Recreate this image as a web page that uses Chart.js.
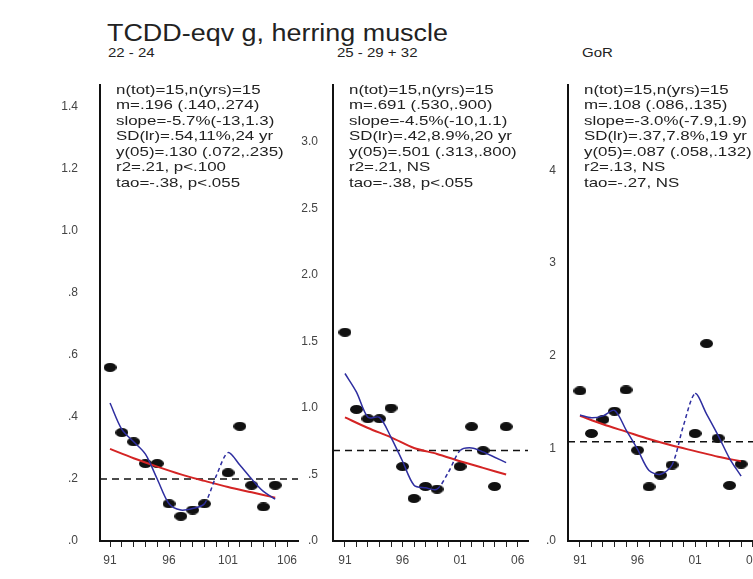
<!DOCTYPE html>
<html>
<head>
<meta charset="utf-8">
<script src="https://cdn.jsdelivr.net/npm/chart.js@4.4.1/dist/chart.umd.min.js"></script>
<style>
  body { margin: 0; width: 753px; height: 579px; overflow: hidden; background: #fff; position: relative;
         font-family: "Liberation Sans", Arial, sans-serif; color: #222; }
  canvas { position: absolute; top: 0; }
  #title { position: absolute; left: 107px; top: 22px; font-size: 23px; line-height: 23px;
           transform: scaleX(1.17); transform-origin: 0 0; white-space: nowrap; }
  .sub { position: absolute; top: 47px; font-size: 12px; line-height: 12px;
         transform: scaleX(1.25); transform-origin: 0 0; white-space: nowrap; }
</style>
</head>
<body>
<div id="title">TCDD-eqv g, herring muscle</div>
<div class="sub" style="left:108px">22 - 24</div>
<div class="sub" style="left:337px">25 - 29 + 32</div>
<div class="sub" style="left:582px">GoR</div>
<canvas id="p1" width="290" height="579" style="left:30px"></canvas>
<canvas id="p2" width="260" height="579" style="left:280px"></canvas>
<canvas id="p3" width="260" height="579" style="left:520px"></canvas>
<script>
// sampling years (19xx / 20xx as 91..105), 100 not sampled
var years = [91, 92, 93, 94, 95, 96, 97, 98, 99, 100, 101, 102, 103, 104, 105];
var trendYears = [91, 93, 95, 97, 99, 101, 103, 105];
var yearTicks = [91, 92, 93, 94, 95, 96, 97, 98, 99, 100, 101, 102, 103, 104, 105, 106];

// 22 - 24
var obsA = [0.56, 0.35, 0.32, 0.25, 0.25, 0.12, 0.08, 0.10, 0.12, null, 0.22, 0.37, 0.18, 0.11, 0.18];
var smoothA = [0.445, 0.36, 0.32, 0.28, 0.20, 0.12, 0.10, 0.105, 0.12, 0.21, 0.285, 0.245, 0.20, 0.16, 0.135];
var trendA = [0.297, 0.267, 0.24, 0.215, 0.194, 0.174, 0.157, 0.14];
var levelA = 0.20;
var yTicksA = [0, 0.2, 0.4, 0.6, 0.8, 1.0, 1.2, 1.4];
var yLabelsA = ['.0', '.2', '.4', '.6', '.8', '1.0', '1.2', '1.4'];
var xLabelsA = { 91: '91', 96: '96', 101: '101', 106: '106' };
var statsA = ['n(tot)=15,n(yrs)=15', 'm=.196 (.140,.274)', 'slope=-5.7%(-13,1.3)', 'SD(lr)=.54,11%,24 yr',
              'y(05)=.130 (.072,.235)', 'r2=.21, p<.100', 'tao=-.38, p<.055'];

// 25 - 29 + 32
var obsB = [1.57, 0.99, 0.92, 0.92, 1.00, 0.56, 0.32, 0.41, 0.39, null, 0.56, 0.86, 0.68, 0.41, 0.86];
var smoothB = [1.26, 1.12, 0.93, 0.93, 0.78, 0.60, 0.42, 0.40, 0.39, 0.52, 0.68, 0.70, 0.67, 0.63, 0.59];
var trendB = [0.93, 0.85, 0.78, 0.70, 0.655, 0.60, 0.55, 0.50];
var levelB = 0.68;
var yTicksB = [0, 0.5, 1.0, 1.5, 2.0, 2.5, 3.0];
var yLabelsB = ['.0', '.5', '1.0', '1.5', '2.0', '2.5', '3.0'];
var xLabelsB = { 91: '91', 96: '96', 101: '01', 106: '06' };
var statsB = ['n(tot)=15,n(yrs)=15', 'm=.691 (.530,.900)', 'slope=-4.5%(-10,1.1)', 'SD(lr)=.42,8.9%,20 yr',
              'y(05)=.501 (.313,.800)', 'r2=.21, NS', 'tao=-.38, p<.055'];

// GoR
var obsC = [1.62, 1.16, 1.31, 1.40, 1.63, 0.98, 0.585, 0.71, 0.82, null, 1.16, 2.13, 1.11, 0.60, 0.83];
var smoothC = [1.36, 1.33, 1.35, 1.41, 1.20, 0.99, 0.76, 0.72, 0.82, 1.25, 1.59, 1.37, 1.14, 0.89, 0.70];
var trendC = [1.35, 1.26, 1.18, 1.10, 1.03, 0.97, 0.91, 0.86];
var levelC = 1.07;
var yTicksC = [0, 1, 2, 3, 4];
var yLabelsC = ['.0', '1', '2', '3', '4'];
var xLabelsC = { 91: '91', 96: '96', 101: '01', 106: '06' };
var statsC = ['n(tot)=15,n(yrs)=15', 'm=.108 (.086,.135)', 'slope=-3.0%(-7.9,1.9)', 'SD(lr)=.37,7.8%,19 yr',
              'y(05)=.087 (.058,.132)', 'r2=.13, NS', 'tao=-.27, NS'];

// filled oval marker
function dot() {
  var c = document.createElement('canvas');
  c.width = 13; c.height = 9;
  var g = c.getContext('2d');
  g.fillStyle = '#111';
  g.beginPath();
  g.ellipse(6.5, 4.5, 6.5, 4.5, 0, 0, Math.PI * 2);
  g.fill();
  return c;
}
var marker = dot();

// stats block printed inside the plot area
var statsText = {
  id: 'statsText',
  afterDraw: function (chart, args, opts) {
    var ctx = chart.ctx, a = chart.chartArea;
    ctx.save();
    ctx.font = '13px "Liberation Sans", Arial, sans-serif';
    ctx.fillStyle = '#222';
    ctx.textBaseline = 'middle';
    opts.lines.forEach(function (t, i) {
      ctx.save();
      ctx.translate(a.left + opts.dx, a.top + 5 + i * 15.5);
      ctx.scale(1.3, 1);
      ctx.fillText(t, 0, 0);
      ctx.restore();
    });
    ctx.restore();
  }
};

function pts(xs, ys) {
  return xs.map(function (x, i) { return { x: x, y: ys[i] }; });
}

function panel(id, p) {
  var tickFont = { family: '"Liberation Sans", Arial, sans-serif', size: 12 };
  new Chart(document.getElementById(id), {
    type: 'line',
    data: {
      datasets: [
        {
          data: pts(years, p.smooth),
          borderColor: '#2e2ea0', borderWidth: 1.5, pointRadius: 0, tension: 0.3,
          segment: {
            borderDash: function (s) { return (s.p0.parsed.x >= 99 && s.p1.parsed.x <= 101) ? [4, 3] : undefined; }
          }
        },
        { data: pts(trendYears, p.trend), borderColor: '#d42424', borderWidth: 2, pointRadius: 0, tension: 0.3 },
        {
          data: [{ x: p.xMin, y: p.level }, { x: p.xMax, y: p.level }],
          borderColor: '#111', borderWidth: 1.5, borderDash: [7, 5], pointRadius: 0
        },
        {
          data: pts(years, p.obs), showLine: false, spanGaps: false,
          pointStyle: marker, pointRadius: 5, pointHoverRadius: 5
        }
      ]
    },
    options: {
      responsive: false,
      animation: false,
      devicePixelRatio: 1,
      layout: { padding: { top: 85, right: p.padRight, bottom: 0, left: 0 } },
      plugins: {
        legend: { display: false },
        tooltip: { enabled: false },
        statsText: { lines: p.stats, dx: 16 }
      },
      scales: {
        x: {
          type: 'linear', min: p.xMin, max: p.xMax,
          afterFit: function (s) { s.height = 38; },
          afterBuildTicks: function (s) { s.ticks = yearTicks.map(function (v) { return { value: v }; }); },
          grid: { display: true, drawOnChartArea: false, drawTicks: true, tickLength: 6, color: '#222', lineWidth: 1 },
          border: { display: true, color: '#111', width: 2 },
          ticks: {
            autoSkip: false, maxRotation: 0, padding: 6, color: '#444', font: tickFont,
            callback: function (v) { return p.xLabels[v] || ''; }
          }
        },
        y: {
          min: 0, max: p.yMax,
          afterFit: function (s) { s.width = p.axisWidth; },
          afterBuildTicks: function (s) { s.ticks = p.yTicks.map(function (v) { return { value: v }; }); },
          grid: { display: false, drawTicks: false },
          border: { display: true, color: '#111', width: 2 },
          ticks: {
            padding: p.labelPad, color: '#444', font: tickFont,
            callback: function (v) { return p.yLabels[p.yTicks.indexOf(v)]; }
          }
        }
      }
    },
    plugins: [statsText]
  });
}

panel('p1', { obs: obsA, smooth: smoothA, trend: trendA, level: levelA, yTicks: yTicksA, yLabels: yLabelsA,
  xLabels: xLabelsA, stats: statsA, xMin: 90.15, xMax: 106.93, yMax: 1.471, axisWidth: 70, padRight: 22, labelPad: 22 });
panel('p2', { obs: obsB, smooth: smoothB, trend: trendB, level: levelB, yTicks: yTicksB, yLabels: yLabelsB,
  xLabels: xLabelsB, stats: statsB, xMin: 89.96, xMax: 106.9, yMax: 3.43, axisWidth: 53, padRight: 12, labelPad: 15 });
panel('p3', { obs: obsC, smooth: smoothC, trend: trendC, level: levelC, yTicks: yTicksC, yLabels: yLabelsC,
  xLabels: xLabelsC, stats: statsC, xMin: 89.96, xMax: 106.9, yMax: 4.92, axisWidth: 48, padRight: 17, labelPad: 12 });
</script>
</body>
</html>
